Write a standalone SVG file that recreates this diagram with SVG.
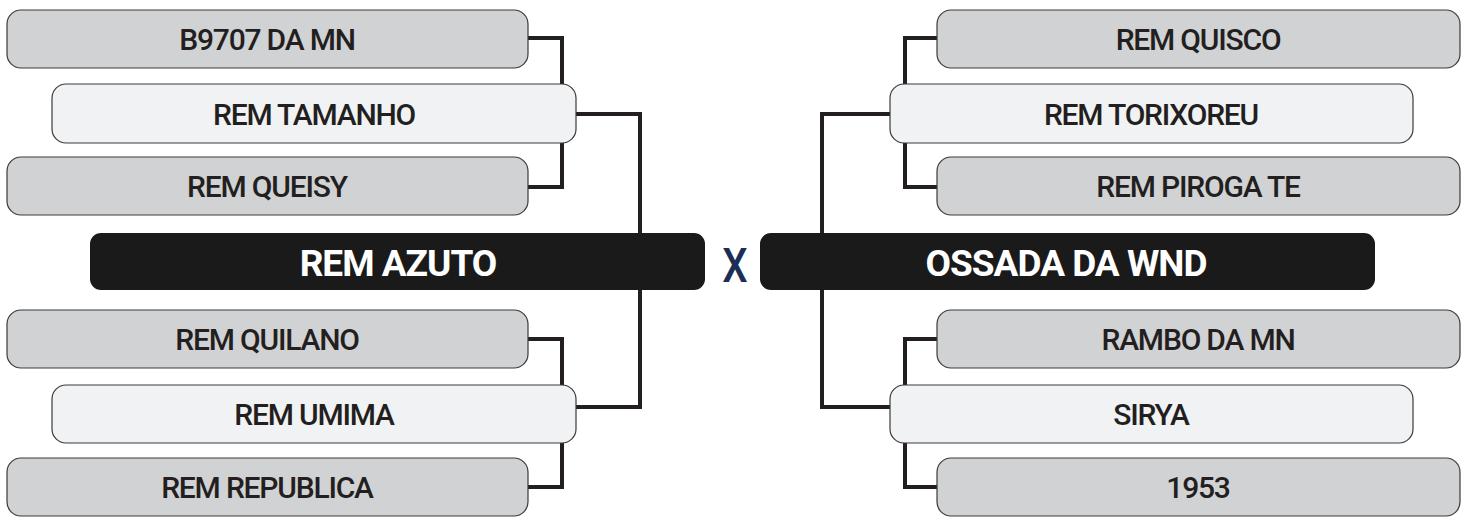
<svg xmlns="http://www.w3.org/2000/svg" width="1467" height="518" viewBox="0 0 1467 518">
<style>
.g{fill:#d1d2d4;stroke:#3a3a3a;stroke-width:1.2}
.l{fill:#f1f2f3;stroke:#3a3a3a;stroke-width:1.2}
.b{fill:#1b1a1a}
.t{font-family:Roboto,"Noto Sans",sans-serif;font-size:30px;font-weight:500;fill:#231f20;text-anchor:middle;letter-spacing:-1.2px}
.bt{font-family:Roboto,"Noto Sans",sans-serif;font-size:37px;font-weight:700;fill:#fff;text-anchor:middle;letter-spacing:-1px}
.c{fill:none;stroke:#231f20;stroke-width:4;stroke-linejoin:miter}
</style>
<g id="connectors">
<polyline class="c" points="528,38 562,38 562,187 528,187"/>
<polyline class="c" points="576,114 640,114 640,235"/>
<polyline class="c" points="640,288 640,407 576,407"/>
<polyline class="c" points="528,339 562,339 562,487 528,487"/>
<polyline class="c" points="937,38 905,38 905,187 937,187"/>
<polyline class="c" points="890,114 822,114 822,235"/>
<polyline class="c" points="822,288 822,407 890,407"/>
<polyline class="c" points="937,339 905,339 905,487 937,487"/>
</g>
<g id="n1"><rect class="g" x="7" y="10" width="521" height="58" rx="14"/><text class="t" x="267" y="50">B9707 DA MN</text></g>
<g id="n2"><rect class="l" x="52" y="84" width="524" height="59" rx="14"/><text class="t" x="314" y="125">REM TAMANHO</text></g>
<g id="n3"><rect class="g" x="7" y="157" width="521" height="58" rx="14"/><text class="t" x="267" y="197">REM QUEISY</text></g>
<g id="n4"><rect class="b" x="90" y="233" width="615" height="57" rx="11"/><text class="bt" x="398" y="276">REM AZUTO</text></g>
<g id="x"><text x="875" y="282" transform="scale(0.84,1)" style="font-family:Roboto,'Noto Sans',sans-serif;font-size:48px;font-weight:500;fill:#1c2e55;text-anchor:middle">X</text></g>
<g id="n5"><rect class="b" x="760" y="233" width="615" height="57" rx="11"/><text class="bt" x="1066" y="276">OSSADA DA WND</text></g>
<g id="n6"><rect class="g" x="7" y="310" width="521" height="58" rx="14"/><text class="t" x="267" y="350">REM QUILANO</text></g>
<g id="n7"><rect class="l" x="52" y="385" width="524" height="58" rx="14"/><text class="t" x="314" y="425">REM UMIMA</text></g>
<g id="n8"><rect class="g" x="7" y="458" width="521" height="58" rx="14"/><text class="t" x="267" y="498">REM REPUBLICA</text></g>
<g id="n9"><rect class="g" x="937" y="10" width="523" height="58" rx="14"/><text class="t" x="1198" y="50">REM QUISCO</text></g>
<g id="n10"><rect class="l" x="890" y="84" width="523" height="59" rx="14"/><text class="t" x="1151" y="125">REM TORIXOREU</text></g>
<g id="n11"><rect class="g" x="937" y="157" width="523" height="58" rx="14"/><text class="t" x="1198" y="197">REM PIROGA TE</text></g>
<g id="n12"><rect class="g" x="937" y="310" width="523" height="58" rx="14"/><text class="t" x="1198" y="350">RAMBO DA MN</text></g>
<g id="n13"><rect class="l" x="890" y="385" width="523" height="58" rx="14"/><text class="t" x="1151" y="425">SIRYA</text></g>
<g id="n14"><rect class="g" x="937" y="458" width="523" height="58" rx="14"/><text class="t" x="1198" y="498">1953</text></g>
</svg>
